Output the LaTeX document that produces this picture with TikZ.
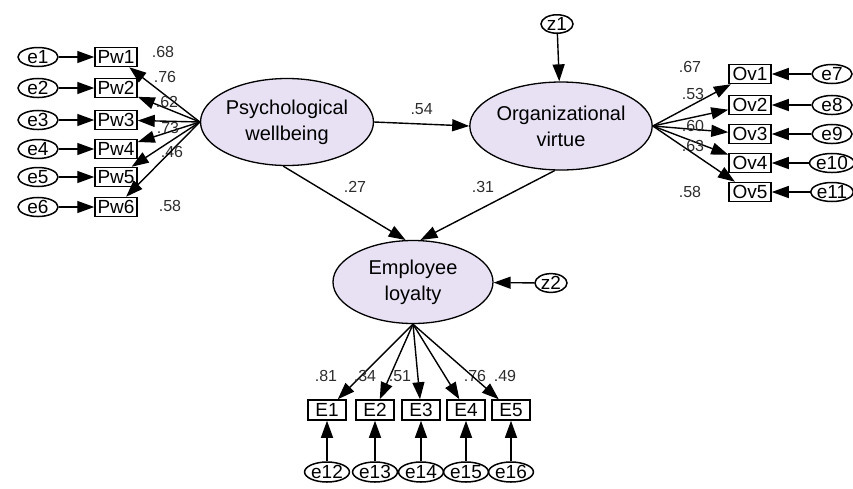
\documentclass[tikz,border=0pt]{standalone}
\usepackage{fontspec}
\setmainfont{Liberation Sans}
\usetikzlibrary{arrows.meta,shapes.geometric}
\definecolor{lav}{RGB}{232,225,244}
\definecolor{numgray}{RGB}{45,45,45}
\tikzset{
  latent/.style={ellipse,draw,line width=1.3pt,fill=lav,minimum width=#1,inner sep=0pt,align=center,font=\fontsize{20}{26}\selectfont},
  obsbox/.style={rectangle,draw,line width=1.5pt,minimum width=42pt,minimum height=19pt,inner sep=0pt,font=\fontsize{19}{19}\selectfont},
  errell/.style={ellipse,draw,line width=1.5pt,minimum width=40pt,minimum height=19pt,inner sep=0pt,font=\fontsize{19}{19}\selectfont},
  arr/.style={line width=1.4pt,-{Triangle[length=17pt,width=12pt]}},
  num/.style={font=\fontsize{16}{16}\selectfont,text=numgray,inner sep=0pt}
}
\begin{document}
\begin{tikzpicture}[x=1pt,y=-1pt]
\useasboundingbox (0,0) rectangle (853,488);
% latent variables
\node[latent=167pt,minimum height=87pt] (PW) at (287,122) {Psychological\\wellbeing};
\node[latent=165pt,minimum height=88pt] (OV) at (561,126) {Organizational\\virtue};
\node[latent=160pt,minimum height=83pt] (EL) at (413,282) {Employee\\loyalty};
% disturbances
\node[errell,minimum width=32pt,minimum height=18pt] (z1) at (557,24) {z1};
\node[errell,minimum width=32pt,minimum height=16pt] (z2) at (551,283) {z2};
\draw[arr] (z1) -- (OV);
\draw[arr] (z2) -- (EL);
% structural paths
\draw[arr] (PW.east) -- (OV.west) node[num,pos=0.5,above=9pt] {.54};
\draw[arr] (PW.265) -- (EL.100);
\draw[arr] (OV.262) -- (EL.80);
\node[num] (l27) at (355,187) {.27};
\node[num] (l31) at (483,187) {.31};
% Pw indicators
\foreach \i/\y/\v/\lx/\ly in {1/57/.68/163/52, 2/88/.76/165/77, 3/120/.62/167/102, 4/149/.73/168/128, 5/177/.46/172/152, 6/207/.58/170/206}{
  \node[obsbox] (Pw\i) at (116,\y) {Pw\i};
  \node[errell] (e\i) at (38,\y) {e\i};
  \draw[arr] (e\i) -- (Pw\i);
  \draw[arr] (PW.west) -- (Pw\i);
  \node[num] (lp\i) at (\lx,\ly) {\v};
}
% Ov indicators
\foreach \i/\y/\e/\v/\lx/\ly in {1/74/7/.67/690/67, 2/105/8/.53/693/94, 3/134/9/.60/693/126, 4/163/10/.63/693/146, 5/192/11/.58/690/192}{
  \node[obsbox] (Ov\i) at (750,\y) {Ov\i};
  \node[errell] (e\e) at (832,\y) {e\e};
  \draw[arr] (e\e) -- (Ov\i);
  \draw[arr] (OV.east) -- (Ov\i);
  \node[num] (lo\i) at (\lx,\ly) {\v};
}
% E indicators
\foreach \i/\x/\e/\v/\lx in {1/327/12/.81/326, 2/375/13/.34/365, 3/421/14/.51/400, 4/466/15/.76/475, 5/511/16/.49/505}{
  \node[obsbox,minimum width=38pt,minimum height=20pt] (E\i) at (\x,410) {E\i};
  \node[errell,minimum width=40pt,minimum height=20pt] (e\e) at (\x,472) {e\e};
  \draw[arr] (e\e) -- (E\i);
  \draw[arr] (EL.south) -- (E\i);
  \node[num] (le\i) at (\lx,376) {\v};
}
\end{tikzpicture}
\end{document}
